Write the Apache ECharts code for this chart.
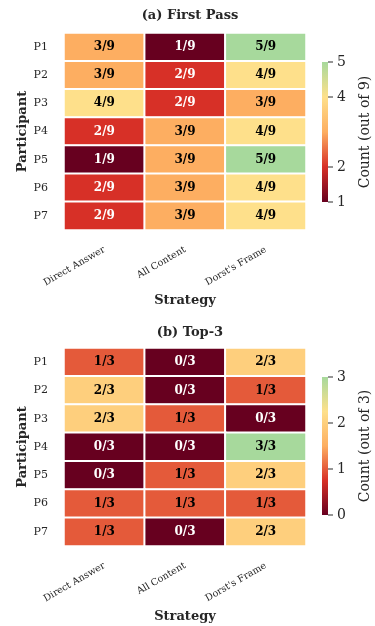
<!DOCTYPE html>
<html><head><meta charset="utf-8">
<script src="https://cdn.jsdelivr.net/npm/echarts@6/dist/echarts.min.js"></script>
<style>html,body{margin:0;padding:0;background:#fff}#c{width:375px;height:626px}</style>
</head><body><div id="c"></div>
<script>
const participants = ['P1','P2','P3','P4','P5','P6','P7'];
const strategies = ['Direct Answer','All Content',"Dorst's Frame"];
// rows = participants, columns = strategies
const firstPass = [[3,1,5],[3,2,4],[4,2,3],[2,3,4],[1,3,5],[2,3,4],[2,3,4]];
const top3 = [[1,0,2],[2,0,1],[2,1,0],[0,0,3],[0,1,2],[1,1,1],[1,0,2]];
const firstPassTicks = [1,2,4,5];
const top3Ticks = [0,1,2,3];
const cmap = ['#67001f','#d73027','#fdae61','#fee08b','#a7d99c'];

const FONT = 'DejaVu Serif';
const TXT = '#262626';

const panels = [
  {title:'(a) First Pass', data:firstPass, total:9, min:1, max:5, ticks:firstPassTicks,
   titleTop:4, gTop:33, gH:197, cbTop:62, cbH:140},
  {title:'(b) Top-3', data:top3, total:3, min:0, max:3, ticks:top3Ticks,
   titleTop:321, gTop:348, gH:198, cbTop:377, cbH:138}
];

const option = {backgroundColor:'#fff', animation:false, title:[], grid:[], xAxis:[], yAxis:[], series:[], visualMap:[]};

panels.forEach((p, i) => {
  const g = 2*i, cb = 2*i+1;
  option.title.push({text:p.title, left:185, textAlign:'center', top:p.titleTop,
    textStyle:{fontFamily:FONT, fontSize:13, fontWeight:'bold', color:TXT}});
  option.grid.push({left:64, top:p.gTop, width:242, height:p.gH});
  option.grid.push({left:322, top:p.cbTop, width:6, height:p.cbH});
  option.xAxis.push({type:'category', gridIndex:g, data:strategies, position:'bottom',
    axisLine:{show:false}, axisTick:{show:false}, splitLine:{show:false},
    axisLabel:{rotate:30, fontFamily:FONT, fontSize:9.5, color:TXT, margin:19, interval:0},
    name:'Strategy', nameLocation:'middle', nameGap:64, nameMoveOverlap:false,
    nameTextStyle:{fontFamily:FONT, fontSize:13, fontWeight:'bold', color:TXT}});
  option.yAxis.push({type:'category', gridIndex:g, data:participants, inverse:true,
    axisLine:{show:false}, axisTick:{show:false}, splitLine:{show:false},
    axisLabel:{fontFamily:FONT, fontSize:11, color:TXT, margin:16},
    name:'Participant', nameLocation:'middle', nameRotate:90, nameGap:35, nameMoveOverlap:false,
    nameTextStyle:{fontFamily:FONT, fontSize:13, fontWeight:'bold', color:TXT}});
  option.xAxis.push({type:'value', gridIndex:cb, min:0, max:1, show:false});
  option.yAxis.push({type:'value', gridIndex:cb, min:p.min, max:p.max, position:'right',
    axisLine:{show:false}, splitLine:{show:false}, axisTick:{show:false},
    axisLabel:{customValues:p.ticks, fontFamily:FONT, fontSize:14, color:TXT, margin:9},
    name:'Count (out of ' + p.total + ')', nameLocation:'middle', nameRotate:90, nameGap:30, nameMoveOverlap:false,
    nameTextStyle:{fontFamily:FONT, fontSize:14, color:TXT}});

  const cells = [];
  p.data.forEach((row, r) => row.forEach((v, c) => cells.push([c, r, v])));
  const sIdx = option.series.length;
  option.series.push({type:'heatmap', xAxisIndex:g, yAxisIndex:g, data:cells,
    itemStyle:{borderColor:'#fff', borderWidth:2},
    label:{show:true, fontFamily:FONT, fontSize:12, fontWeight:'bold',
      formatter: (prm) => {
        const v = prm.value[2];
        const t = (v - p.min) / (p.max - p.min);
        return (t < 0.3 ? '{w|' : '{b|') + v + '/' + p.total + '}';
      },
      rich:{w:{color:'#fff', fontFamily:FONT, fontSize:12, fontWeight:'bold'},
            b:{color:'#000', fontFamily:FONT, fontSize:12, fontWeight:'bold'}}},
    emphasis:{disabled:true}});
  option.visualMap.push({show:false, type:'continuous', seriesIndex:sIdx, dimension:2,
    min:p.min, max:p.max, inRange:{color:cmap}});
  // colorbar: gradient area + tick marks at the tick values
  option.series.push({type:'scatter', xAxisIndex:cb, yAxisIndex:cb, silent:true,
    data:p.ticks.map(t => [1, t]), symbol:'rect', symbolSize:[5, 1.3], symbolOffset:[2.5, 0],
    itemStyle:{color:'#333'}, clip:false, z:5,
    markArea:{silent:true, data:[[{xAxis:0, yAxis:p.min},{xAxis:1, yAxis:p.max}]],
      itemStyle:{color:{type:'linear', x:0, y:1, x2:0, y2:0,
        colorStops: cmap.map((c, k) => ({offset:k/(cmap.length-1), color:c}))}}}});
});

const chart = echarts.init(document.getElementById('c'), null, {renderer:'canvas'});
chart.setOption(option);
</script>
</body></html>
